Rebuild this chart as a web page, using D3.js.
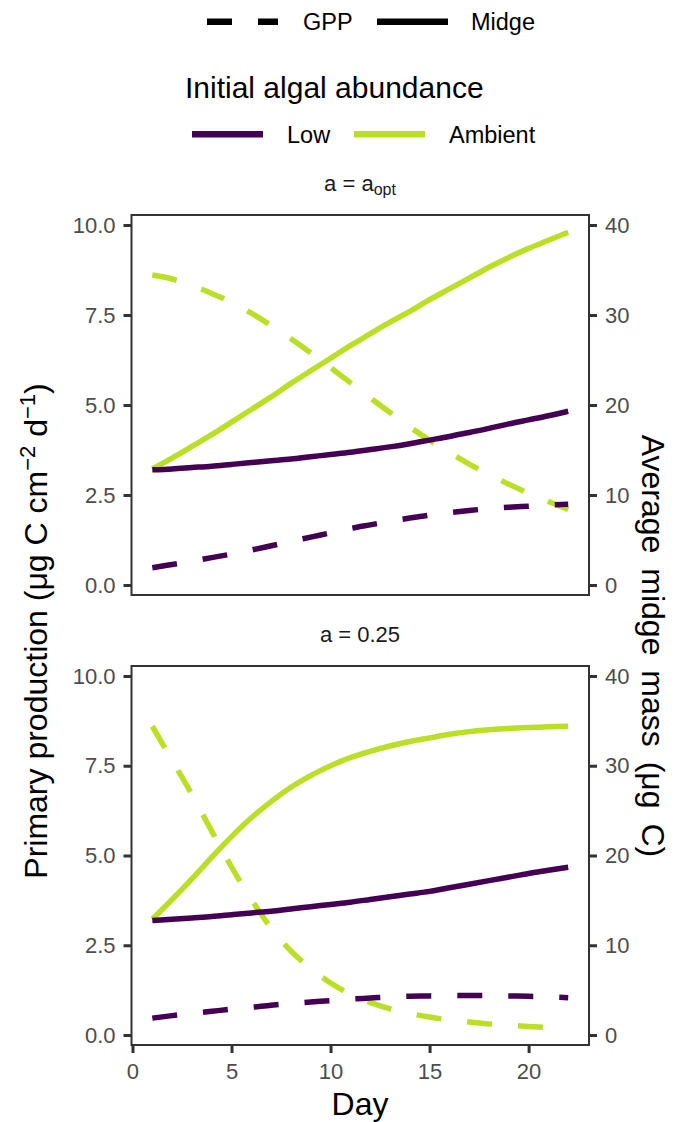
<!DOCTYPE html>
<html>
<head>
<meta charset="utf-8">
<script src="https://cdn.jsdelivr.net/npm/d3@7"></script>
<style>
  body { margin: 0; background: #fff; }
  svg { display: block; font-family: "Liberation Sans", Arial, sans-serif; }
</style>
</head>
<body>
<script>
var width = 678,
    height = 1122;

// days on the x axis
var days = [1, 2, 3, 4, 5, 6, 7, 8, 9, 10, 11, 12, 13, 14, 15, 16, 17, 18, 19, 20, 21, 22];

// a = a_opt panel
var gppLowOpt = [0.48, 0.57, 0.66, 0.76, 0.86, 0.97, 1.09, 1.21, 1.33, 1.45, 1.57, 1.67, 1.77, 1.86, 1.94, 2.01, 2.07, 2.12, 2.16, 2.19, 2.22, 2.24];
var gppAmbOpt = [8.61, 8.50, 8.32, 8.10, 7.85, 7.55, 7.21, 6.84, 6.45, 6.04, 5.62, 5.20, 4.79, 4.39, 4.02, 3.68, 3.36, 3.07, 2.80, 2.55, 2.32, 2.10];
var midgeLowOpt = [12.8, 12.9, 13.05, 13.2, 13.4, 13.6, 13.8, 14.0, 14.25, 14.5, 14.75, 15.05, 15.35, 15.7, 16.1, 16.5, 16.95, 17.4, 17.9, 18.35, 18.8, 19.3];
var midgeAmbOpt = [12.9, 14.1, 15.4, 16.7, 18.1, 19.5, 20.9, 22.4, 23.8, 25.2, 26.6, 27.9, 29.2, 30.4, 31.7, 32.9, 34.1, 35.3, 36.4, 37.4, 38.3, 39.2];

// a = 0.25 panel
var gppLow025 = [0.47, 0.54, 0.60, 0.66, 0.72, 0.77, 0.83, 0.88, 0.92, 0.96, 1.00, 1.03, 1.06, 1.08, 1.09, 1.10, 1.10, 1.10, 1.09, 1.08, 1.06, 1.04];
var gppAmb025 = [8.60, 7.65, 6.70, 5.68, 4.68, 3.78, 2.98, 2.34, 1.85, 1.45, 1.14, 0.91, 0.73, 0.60, 0.50, 0.42, 0.36, 0.31, 0.27, 0.24, 0.21, 0.19];
var midgeLow025 = [12.75, 12.9, 13.05, 13.2, 13.4, 13.6, 13.8, 14.05, 14.3, 14.55, 14.8, 15.1, 15.4, 15.7, 16.0, 16.4, 16.8, 17.2, 17.6, 18.0, 18.35, 18.7];
var midgeAmb025 = [12.9, 15.1, 17.4, 19.8, 22.1, 24.2, 26.0, 27.6, 28.9, 30.0, 30.9, 31.6, 32.2, 32.7, 33.1, 33.5, 33.8, 34.0, 34.15, 34.25, 34.35, 34.4];

// ticks and labels
var xTicks = [0, 5, 10, 15, 20];
var gppTicks = [0, 2.5, 5, 7.5, 10];
var midgeTicks = [0, 10, 20, 30, 40];
var abundance = ["Low", "Ambient"];
var variables = ["GPP", "Midge"];

var color = d3.scaleOrdinal()
    .domain(abundance)
    .range(["#440154", "#BBDF27"]);

var dash = "25,26";

var svg = d3.select("body")
    .append("svg")
    .attr("width", width)
    .attr("height", height);

var x = d3.scaleLinear()
    .domain([-0.05, 23.05])
    .range([131.5, 589]);

var panels = [
    { top: 215, bottom: 595, gppLow: gppLowOpt, gppAmb: gppAmbOpt, midLow: midgeLowOpt, midAmb: midgeAmbOpt, xAxis: false },
    { top: 666, bottom: 1045, gppLow: gppLow025, gppAmb: gppAmb025, midLow: midgeLow025, midAmb: midgeAmb025, xAxis: true }
];

panels.forEach(function (p, i) {
    var yL = d3.scaleLinear().domain([-0.278, 10.278]).range([p.bottom, p.top]);
    var yR = d3.scaleLinear().domain([-1.111, 41.111]).range([p.bottom, p.top]);

    var g = svg.append("g");

    // strip title
    var strip = g.append("text")
        .attr("x", 360)
        .attr("y", p.top - 24.5)
        .attr("text-anchor", "middle")
        .style("font-size", "22px")
        .style("fill", "#1a1a1a");
    if (i === 0) {
        strip.append("tspan").text("a = a");
        strip.append("tspan").attr("baseline-shift", "-25%").style("font-size", "16px").text("opt");
    } else {
        strip.text("a = 0.25");
    }

    var gppLine = d3.line()
        .curve(d3.curveMonotoneX)
        .x(function (d, j) { return x(days[j]); })
        .y(function (d) { return yL(d); });
    var midLine = d3.line()
        .curve(d3.curveMonotoneX)
        .x(function (d, j) { return x(days[j]); })
        .y(function (d) { return yR(d); });

    var series = [
        { v: p.gppAmb, line: gppLine, col: "Ambient", dashed: true },
        { v: p.gppLow, line: gppLine, col: "Low", dashed: true },
        { v: p.midAmb, line: midLine, col: "Ambient", dashed: false },
        { v: p.midLow, line: midLine, col: "Low", dashed: false }
    ];

    g.selectAll("path.series")
        .data(series)
        .enter().append("path")
        .attr("class", "series")
        .attr("d", function (d) { return d.line(d.v); })
        .style("fill", "none")
        .style("stroke", function (d) { return color(d.col); })
        .style("stroke-width", 5.5)
        .style("stroke-dasharray", function (d) { return d.dashed ? dash : null; });

    // panel border
    g.append("rect")
        .attr("x", 131.5)
        .attr("y", p.top)
        .attr("width", 589 - 131.5)
        .attr("height", p.bottom - p.top)
        .style("fill", "none")
        .style("stroke", "#333333")
        .style("stroke-width", 2);

    var left = g.append("g")
        .attr("transform", "translate(131.5,0)")
        .call(d3.axisLeft(yL).tickValues(gppTicks).tickFormat(d3.format(".1f")).tickSize(8).tickPadding(8));
    var right = g.append("g")
        .attr("transform", "translate(589,0)")
        .call(d3.axisRight(yR).tickValues(midgeTicks).tickSize(8).tickPadding(8));
    var axes = [left, right];

    if (p.xAxis) {
        var bottom = g.append("g")
            .attr("transform", "translate(0," + p.bottom + ")")
            .call(d3.axisBottom(x).tickValues(xTicks).tickSize(8).tickPadding(10));
        axes.push(bottom);
    }

    axes.forEach(function (a) {
        a.select(".domain").remove();
        a.selectAll(".tick line").style("stroke", "#333333").style("stroke-width", 3);
        a.selectAll(".tick text")
            .style("font-size", "22px")
            .style("fill", "#4D4D4D")
            .style("font-family", "Liberation Sans, Arial, sans-serif");
    });
});

// axis titles
svg.append("text")
    .attr("x", 360)
    .attr("y", 1115)
    .attr("text-anchor", "middle")
    .style("font-size", "32px")
    .text("Day");

var leftTitle = svg.append("text")
    .attr("transform", "translate(47,631) rotate(-90)")
    .attr("text-anchor", "middle")
    .style("font-size", "32px");
leftTitle.append("tspan").text("Primary production (\u03bcg C  cm");
leftTitle.append("tspan").attr("baseline-shift", "super").style("font-size", "22px").text("\u22122");
leftTitle.append("tspan").text(" d");
leftTitle.append("tspan").attr("baseline-shift", "super").style("font-size", "22px").text("\u22121");
leftTitle.append("tspan").text(")");

svg.append("text")
    .attr("transform", "translate(642,646) rotate(90)")
    .attr("text-anchor", "middle")
    .style("font-size", "32px")
    .style("word-spacing", "6px")
    .text("Average midge mass (\u03bcg C)");

// legend: line type
var lt = svg.append("g");
var ltKeys = [
    { label: variables[0], x1: 207, x2: 278, tx: 303, dashed: true },
    { label: variables[1], x1: 377, x2: 448, tx: 471, dashed: false }
];
lt.selectAll("line")
    .data(ltKeys)
    .enter().append("line")
    .attr("x1", function (d) { return d.x1; })
    .attr("x2", function (d) { return d.x2; })
    .attr("y1", 21.7)
    .attr("y2", 21.7)
    .style("stroke", "#000")
    .style("stroke-width", 6.5)
    .style("stroke-dasharray", function (d) { return d.dashed ? dash : null; });
lt.selectAll("text")
    .data(ltKeys)
    .enter().append("text")
    .attr("x", function (d) { return d.tx; })
    .attr("y", 30)
    .style("font-size", "23.5px")
    .text(function (d) { return d.label; });

// legend: colour
svg.append("text")
    .attr("x", 185)
    .attr("y", 98)
    .style("font-size", "30px")
    .text("Initial algal abundance");

var colKeys = [
    { label: abundance[0], x1: 192, x2: 263, tx: 287 },
    { label: abundance[1], x1: 354, x2: 425, tx: 449 }
];
svg.selectAll("line.ckey")
    .data(colKeys)
    .enter().append("line")
    .attr("class", "ckey")
    .attr("x1", function (d) { return d.x1; })
    .attr("x2", function (d) { return d.x2; })
    .attr("y1", 134.3)
    .attr("y2", 134.3)
    .style("stroke", function (d) { return color(d.label); })
    .style("stroke-width", 6.5);
svg.selectAll("text.ckey")
    .data(colKeys)
    .enter().append("text")
    .attr("class", "ckey")
    .attr("x", function (d) { return d.tx; })
    .attr("y", 143)
    .style("font-size", "23.5px")
    .text(function (d) { return d.label; });
</script>
</body>
</html>
